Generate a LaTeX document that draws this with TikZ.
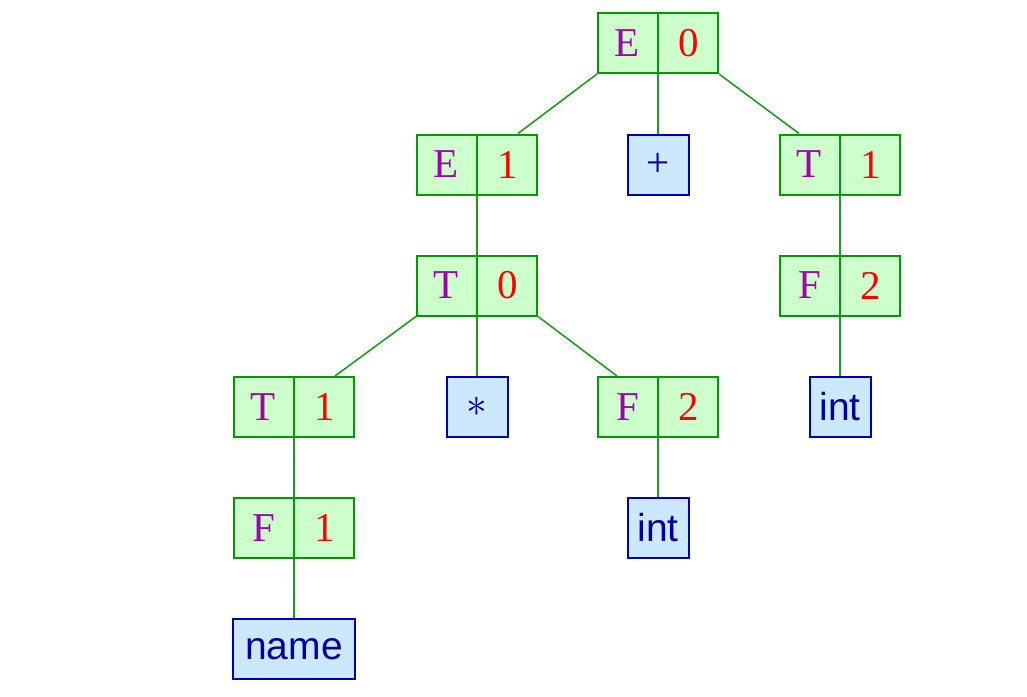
\documentclass[tikz,border=0pt]{standalone}
\usepackage{fontspec}
\setmainfont{Liberation Serif}
\newfontfamily\sansf{Liberation Sans}
\usetikzlibrary{shapes.multipart}
\definecolor{gfill}{HTML}{CCFFCC}
\definecolor{gdraw}{HTML}{009900}
\definecolor{gedge}{HTML}{1E9E1E}
\definecolor{bfill}{HTML}{CCE8FF}
\definecolor{bdraw}{HTML}{0000B0}
\definecolor{btext}{HTML}{0000A0}
\definecolor{ntext}{HTML}{A000A8}
\definecolor{rtext}{HTML}{FF0000}
\newcommand{\gb}[2]{\makebox[29.5pt]{\color{ntext}#1}\nodepart{two}\makebox[29.5pt]{\color{rtext}#2}}
\tikzset{
  nt/.style={rectangle split, rectangle split horizontal, rectangle split parts=2,
    draw=gdraw, fill=gfill, line width=1pt, inner xsep=0pt, inner ysep=0pt,
    minimum height=30pt},
  tm/.style={draw=bdraw, fill=bfill, line width=1pt, inner sep=0pt,
    minimum width=30.5pt, minimum height=30pt, text=btext},
  sanstm/.style={tm, font=\fontsize{19.5}{23}\sansf},
  edge/.style={draw=gedge, line width=0.8pt}
}
\begin{document}
\begin{tikzpicture}[x=0.5pt,y=-0.5pt,font=\fontsize{20.5}{24}\selectfont]
\useasboundingbox (0,0) rectangle (1027,696);
\node[nt] (E0) at (658,43) {\gb{E}{0}};
\node[nt] (E1) at (477,164.5) {\gb{E}{1}};
\node[tm] (plus) at (658,164.5) {+};
\node[nt] (T1r) at (840,164.5) {\gb{T}{1}};
\node[nt] (T0) at (477,285.5) {\gb{T}{0}};
\node[nt] (F2r) at (840,285.5) {\gb{F}{2}};
\node[nt] (T1l) at (294,407) {\gb{T}{1}};
\node[tm] (star) at (477,407) {$*$};
\node[nt] (F2m) at (658,407) {\gb{F}{2}};
\node[sanstm] (intr) at (840,407) {int};
\node[nt] (F1) at (294,528) {\gb{F}{1}};
\node[sanstm] (intm) at (658,528) {int};
\node[sanstm,minimum width=61pt] (name) at (294,649) {name};

\draw[edge] (E0.south west) -- ([xshift=-10pt]E1.north east);
\draw[edge] (E0.south) -- (plus.north);
\draw[edge] (E0.south east) -- ([xshift=10pt]T1r.north west);
\draw[edge] (E1.south) -- (T0.north);
\draw[edge] (T1r.south) -- (F2r.north);
\draw[edge] (T0.south west) -- ([xshift=-10pt]T1l.north east);
\draw[edge] (T0.south) -- (star.north);
\draw[edge] (T0.south east) -- ([xshift=10pt]F2m.north west);
\draw[edge] (F2r.south) -- (intr.north);
\draw[edge] (T1l.south) -- (F1.north);
\draw[edge] (F2m.south) -- (intm.north);
\draw[edge] (F1.south) -- (name.north);
\end{tikzpicture}
\end{document}
